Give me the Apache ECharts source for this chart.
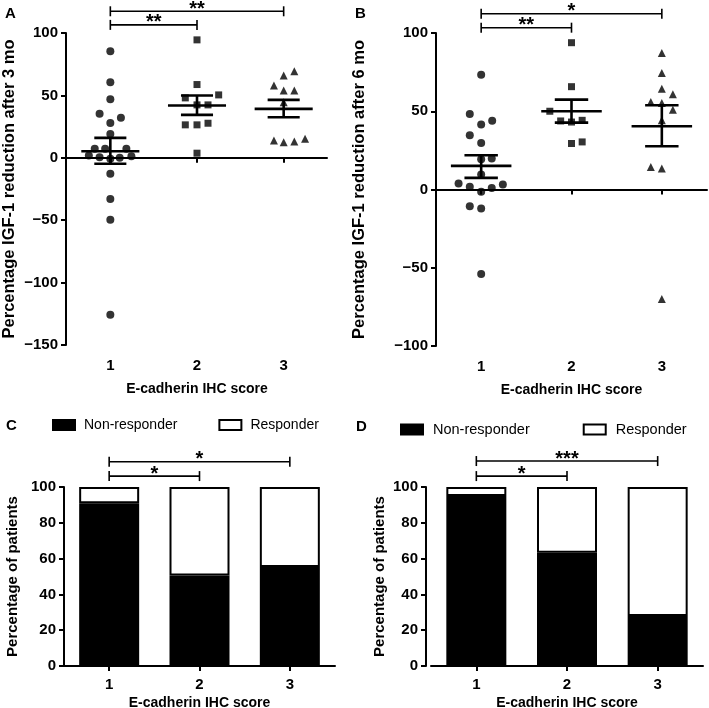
<!DOCTYPE html>
<html>
<head>
<meta charset="utf-8">
<script src="https://cdn.jsdelivr.net/npm/echarts@6/dist/echarts.min.js"></script>
<style>html,body{margin:0;padding:0;background:#fff}#c{width:709px;height:708px}</style>
</head>
<body>
<div id="c"></div>
<script>
// ---------- data ----------
const categories = ['1', '2', '3'];
const ticksA = [-150, -100, -50, 0, 50, 100];
const ticksB = [-100, -50, 0, 50, 100];

// Panel A: % IGF-1 reduction after 3 mo  [x position (category + jitter), value]
const a3Score1 = [[1,85.4],[1,60.6],[1,47],[0.876,35.2],[1.122,32],[1,27.8],[1,19],[0.82,7.2],[0.94,7.2],[1.185,7.2],[0.752,1.8],[0.876,0.5],[1,-0.8],[1.108,0],[1.243,1.3],[1,-12.8],[1,-33],[1,-49.6],[1,-125.7]];
const a3Score2 = [[2,94.5],[2,58.7],[1.865,48],[2.25,50.4],[2,42.4],[2.127,42.4],[1.865,26.4],[2,26.4],[2.127,27.7],[2,3.7]];
const a3Score3 = [[3.123,69.3],[3,65.9],[2.888,57.9],[3,53.9],[3.123,53.9],[3,44.5],[2.888,13.9],[3,12.5],[3.123,13],[3.247,15.2]];
const a3Mean = [5.3, 41.9, 39.2];
const a3SemLo = [-4.8, 34.4, 32.5];
const a3SemHi = [16, 49.9, 46.4];

// Panel B: % IGF-1 reduction after 6 mo
const b6Score1 = [[1,73.4],[0.874,48.3],[1,41.5],[1.122,44],[0.874,34.7],[1,29.7],[1,19.3],[1.117,19.8],[1,9.6],[0.75,3.8],[0.874,1.7],[1,-1.5],[1.117,1],[1.24,3.2],[0.874,-10.7],[1,-12.1],[1,-54]];
const b6Score2 = [[2,93.8],[2,65.7],[1.76,50],[1.88,43.8],[2,43.1],[2.118,44.2],[2,29.4],[2.118,30.4]];
const b6Score3 = [[3,87.2],[3,74.4],[3,64.4],[3.122,60.8],[2.878,55.9],[3,55.3],[3.122,51],[3,44.2],[2.878,14.4],[3,13.4],[3,-70]];
const b6Mean = [15.1, 50, 40.4];
const b6SemLo = [7.4, 42.7, 27.6];
const b6SemHi = [21.9, 57.4, 53.8];

// Panel C / D: percentage of patients
const cNonResponder = [90.9, 50.6, 55.3];
const cResponder = [9.1, 49.4, 44.7];
const dNonResponder = [95, 63.3, 27.9];
const dResponder = [5, 36.7, 72.1];

// significance brackets [from score, to score, height in axis units]
const bracketsA = [[1, 2, 106.5], [1, 3, 117.4]];
const bracketLabelsA = ['**', '**'];
const bracketsB = [[1, 2, 103.4], [1, 3, 112.3]];
const bracketLabelsB = ['**', '*'];
const bracketsC = [[1, 2, 106.1], [1, 3, 114.1]];
const bracketLabelsC = ['*', '*'];
const bracketsD = [[1, 2, 106.1], [1, 3, 114.5]];
const bracketLabelsD = ['*', '***'];

// ---------- helpers ----------
const FONT = "'Liberation Sans', Arial, Helvetica, sans-serif";
const minus = v => String(v).replace('-', '\u2212');

function meanSemData(m, lo, hi) {
  return m.map((v, i) => [i + 1, v, lo[i], hi[i]]);
}
function meanSemRender(params, api) {
  const x = api.value(0);
  const c = api.coord([x, api.value(1)]);
  const l = api.coord([x, api.value(2)]);
  const h = api.coord([x, api.value(3)]);
  const hw = api.size([0.335, 0])[0];
  const cw = api.size([0.185, 0])[0];
  const st = { stroke: '#000', lineWidth: 2.6 };
  return { type: 'group', children: [
    { type: 'line', shape: { x1: c[0] - hw, y1: c[1], x2: c[0] + hw, y2: c[1] }, style: st },
    { type: 'line', shape: { x1: c[0], y1: l[1], x2: c[0], y2: h[1] }, style: st },
    { type: 'line', shape: { x1: c[0] - cw, y1: l[1], x2: c[0] + cw, y2: l[1] }, style: st },
    { type: 'line', shape: { x1: c[0] - cw, y1: h[1], x2: c[0] + cw, y2: h[1] }, style: st }
  ]};
}
function bracketRender(labels) {
  return function (params, api) {
    const p1 = api.coord([api.value(0), api.value(2)]);
    const p2 = api.coord([api.value(1), api.value(2)]);
    const st = { stroke: '#000', lineWidth: 1.6 };
    return { type: 'group', children: [
      { type: 'line', shape: { x1: p1[0], y1: p1[1], x2: p2[0], y2: p2[1] }, style: st },
      { type: 'line', shape: { x1: p1[0], y1: p1[1] - 5, x2: p1[0], y2: p1[1] + 5 }, style: st },
      { type: 'line', shape: { x1: p2[0], y1: p2[1] - 5, x2: p2[0], y2: p2[1] + 5 }, style: st },
      { type: 'text', style: { text: labels[params.dataIndex], x: (p1[0] + p2[0]) / 2, y: p1[1] - 2,
        align: 'center', verticalAlign: 'middle', fill: '#000', font: 'bold 20px ' + FONT } }
    ]};
  };
}
function yAxisCfg(grid, min, max, interval, name, nameGap, nameSize, offset, fmt) {
  return {
    type: 'value', gridIndex: grid, min: min, max: max, interval: interval, offset: offset || 0,
    name: name, nameLocation: 'middle', nameGap: nameGap,
    nameTextStyle: { fontFamily: FONT, fontWeight: 'bold', fontSize: nameSize, color: '#000' },
    axisLine: { show: true, lineStyle: { color: '#000', width: 2 } },
    axisTick: { show: true, inside: false, length: 5, lineStyle: { color: '#000', width: 2 } },
    axisLabel: { fontFamily: FONT, fontWeight: 'bold', fontSize: 15, color: '#000', margin: 8, formatter: fmt },
    splitLine: { show: false }
  };
}
function xCatCfg(grid, nameGap, margin) {
  return {
    type: 'category', gridIndex: grid, data: categories, boundaryGap: true,
    name: 'E-cadherin IHC score', nameLocation: 'middle', nameGap: nameGap,
    nameTextStyle: { fontFamily: FONT, fontWeight: 'bold', fontSize: 14, color: '#000' },
    axisLine: { show: true, lineStyle: { color: '#000', width: 2 } },
    axisTick: { show: true, alignWithLabel: true, length: 5, lineStyle: { color: '#000', width: 2 } },
    axisLabel: { fontFamily: FONT, fontWeight: 'bold', fontSize: 15, color: '#000', margin: margin },
    splitLine: { show: false }
  };
}
function xValHidden(grid) {
  return { type: 'value', gridIndex: grid, min: 0.5, max: 3.5, show: false, splitLine: { show: false } };
}
function scatter(name, data, sym, size, xi, yi) {
  return { type: 'scatter', name: name, data: data, symbol: sym, symbolSize: size,
    xAxisIndex: xi, yAxisIndex: yi, itemStyle: { color: '#000' }, z: 3, silent: true };
}

const chart = echarts.init(document.getElementById('c'), null, { renderer: 'canvas' });
const option = {
  animation: false,
  backgroundColor: '#fff',
  grid: [
    { left: 67, top: 33, width: 260, height: 312, outerBoundsMode: 'none', containLabel: false },
    { left: 436, top: 33, width: 271, height: 313, outerBoundsMode: 'none', containLabel: false },
    { left: 64, top: 487, width: 271, height: 179, outerBoundsMode: 'none', containLabel: false },
    { left: 431, top: 487, width: 272, height: 179, outerBoundsMode: 'none', containLabel: false }
  ],
  xAxis: [
    xCatCfg(0, 37, 13), xValHidden(0),
    xCatCfg(1, 37, 13), xValHidden(1),
    xCatCfg(2, 30, 11), xValHidden(2),
    xCatCfg(3, 30, 11), xValHidden(3)
  ],
  yAxis: [
    yAxisCfg(0, -150, 100, 50, 'Percentage IGF-1 reduction after 3 mo', 48, 16.5, 1, minus),
    yAxisCfg(1, -100, 100, 50, 'Percentage IGF-1 reduction after 6 mo', 68, 16.5, 0, minus),
    yAxisCfg(2, 0, 100, 20, 'Percentage of patients', 44, 15, 0),
    yAxisCfg(3, 0, 100, 20, 'Percentage of patients', 39, 15, 5)
  ],
  legend: [
    { left: 52, top: 418, icon: 'rect', itemWidth: 22, itemHeight: 10, itemGap: 41, padding: 0,
      textStyle: { fontFamily: FONT, fontSize: 14, color: '#000', padding: [0, 0, 0, 4] },
      data: ['Non-responder', 'Responder'], selectedMode: false },
    { left: 400, top: 422, icon: 'rect', itemWidth: 22, itemHeight: 10, itemGap: 53, padding: 0,
      textStyle: { fontFamily: FONT, fontSize: 14.5, color: '#000', padding: [0, 0, 0, 5] },
      data: ['Non-responder', 'Responder'], selectedMode: false }
  ],
  graphic: [
    { type: 'text', left: 5, top: 6, style: { text: 'A', font: 'bold 15px ' + FONT, fill: '#000' } },
    { type: 'text', left: 355, top: 6, style: { text: 'B', font: 'bold 15px ' + FONT, fill: '#000' } },
    { type: 'text', left: 6, top: 418, style: { text: 'C', font: 'bold 15px ' + FONT, fill: '#000' } },
    { type: 'text', left: 356, top: 419, style: { text: 'D', font: 'bold 15px ' + FONT, fill: '#000' } }
  ],
  series: [
    scatter('A1', a3Score1, 'circle', 8, 1, 0),
    scatter('A2', a3Score2, 'rect', 7, 1, 0),
    scatter('A3', a3Score3, 'triangle', 8, 1, 0),
    { type: 'custom', name: 'meanA', xAxisIndex: 1, yAxisIndex: 0, data: meanSemData(a3Mean, a3SemLo, a3SemHi), renderItem: meanSemRender, z: 4, silent: true },
    { type: 'custom', name: 'sigA', xAxisIndex: 1, yAxisIndex: 0, data: bracketsA, renderItem: bracketRender(bracketLabelsA), clip: false, silent: true },

    scatter('B1', b6Score1, 'circle', 8, 3, 1),
    scatter('B2', b6Score2, 'rect', 7, 3, 1),
    scatter('B3', b6Score3, 'triangle', 8, 3, 1),
    { type: 'custom', name: 'meanB', xAxisIndex: 3, yAxisIndex: 1, data: meanSemData(b6Mean, b6SemLo, b6SemHi), renderItem: meanSemRender, z: 4, silent: true },
    { type: 'custom', name: 'sigB', xAxisIndex: 3, yAxisIndex: 1, data: bracketsB, renderItem: bracketRender(bracketLabelsB), clip: false, silent: true },

    { type: 'bar', name: 'Non-responder', stack: 'c', xAxisIndex: 4, yAxisIndex: 2, data: cNonResponder, barWidth: 60,
      itemStyle: { color: '#000', borderColor: '#000', borderWidth: 2 }, silent: true },
    { type: 'bar', name: 'Responder', stack: 'c', xAxisIndex: 4, yAxisIndex: 2, data: cResponder, barWidth: 60,
      itemStyle: { color: '#fff', borderColor: '#000', borderWidth: 2 }, silent: true },
    { type: 'custom', name: 'sigC', xAxisIndex: 5, yAxisIndex: 2, data: bracketsC, renderItem: bracketRender(bracketLabelsC), clip: false, silent: true },

    { type: 'bar', name: 'Non-responder', stack: 'd', xAxisIndex: 6, yAxisIndex: 3, data: dNonResponder, barWidth: 60,
      itemStyle: { color: '#000', borderColor: '#000', borderWidth: 2 }, silent: true },
    { type: 'bar', name: 'Responder', stack: 'd', xAxisIndex: 6, yAxisIndex: 3, data: dResponder, barWidth: 60,
      itemStyle: { color: '#fff', borderColor: '#000', borderWidth: 2 }, silent: true },
    { type: 'custom', name: 'sigD', xAxisIndex: 7, yAxisIndex: 3, data: bracketsD, renderItem: bracketRender(bracketLabelsD), clip: false, silent: true }
  ]
};
chart.setOption(option);
</script>
</body>
</html>
